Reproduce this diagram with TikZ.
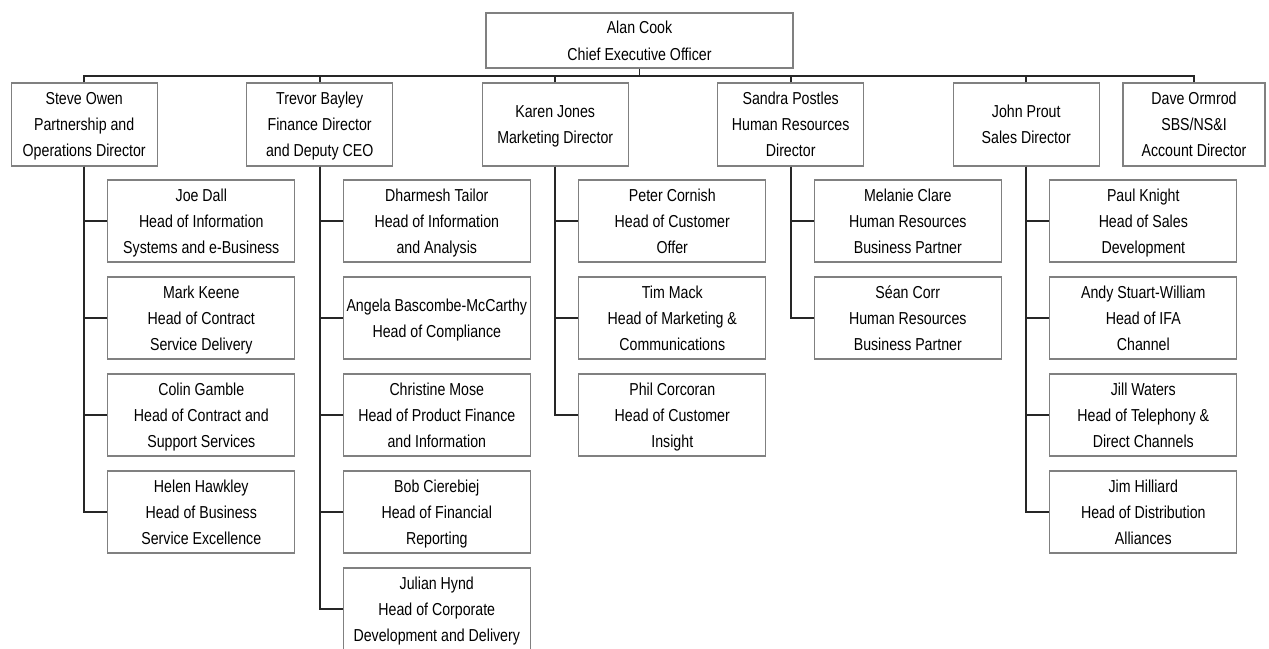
\documentclass[tikz,border=0pt]{standalone}
\usepackage{fontspec}
\setmainfont{Liberation Sans}[FakeStretch=0.82]
\definecolor{boxline}{HTML}{808080}
\definecolor{linkline}{HTML}{262626}
\definecolor{labeltext}{HTML}{000000}
\tikzset{
  orgbox/.style={draw=boxline, line width=1.2pt, rectangle, align=center,
    inner sep=0pt, text depth=-3.5pt, text=labeltext,
    font=\fontsize{17.3}{26}\selectfont},
  ceobox/.style={orgbox, minimum width=307pt, minimum height=55pt,
    text depth=-7.5pt, font=\fontsize{17.3}{27.5}\selectfont},
  dirbox/.style={orgbox, minimum width=146pt, minimum height=83pt},
  headbox/.style={orgbox, minimum width=187pt, minimum height=82pt},
  link/.style={draw=linkline, line width=1.6pt},
}
\begin{document}
\begin{tikzpicture}[x=1pt,y=-1pt]
\useasboundingbox (0,0) rectangle (1269,648);
\fill[white] (0,0) rectangle (1269,648);

% chief executive
\node[ceobox] (ceo) at (639.5,40.5) {Alan Cook\\Chief Executive Officer};

% directors
\node[dirbox] (steve)  at (84.2,124.5)  {Steve Owen\\Partnership and\\Operations Director};
\node[dirbox] (trevor) at (319.7,124.5) {Trevor Bayley\\Finance Director\\and Deputy CEO};
\node[dirbox] (karen)  at (555.2,124.5) {Karen Jones\\Marketing Director};
\node[dirbox] (sandra) at (790.7,124.5) {Sandra Postles\\Human Resources\\Director};
\node[dirbox] (john)   at (1026.2,124.5) {John Prout\\Sales Director};
\node[dirbox, minimum width=142pt] (dave) at (1194,124.5) {Dave Ormrod\\SBS/NS\&I\\Account Director};

% heads reporting to Steve Owen
\node[headbox] (joe)    at (201.3,221) {Joe Dall\\Head of Information\\Systems and e-Business};
\node[headbox] (mark)   at (201.3,318) {Mark Keene\\Head of Contract\\Service Delivery};
\node[headbox] (colin)  at (201.3,415) {Colin Gamble\\Head of Contract and\\Support Services};
\node[headbox] (helen)  at (201.3,512) {Helen Hawkley\\Head of Business\\Service Excellence};

% heads reporting to Trevor Bayley
\node[headbox] (dharmesh)  at (436.8,221) {Dharmesh Tailor\\Head of Information\\and Analysis};
\node[headbox] (angela)    at (436.8,318) {Angela Bascombe-McCarthy\\Head of Compliance};
\node[headbox] (christine) at (436.8,415) {Christine Mose\\Head of Product Finance\\and Information};
\node[headbox] (bob)       at (436.8,512) {Bob Cierebiej\\Head of Financial\\Reporting};
\node[headbox] (julian)    at (436.8,609) {Julian Hynd\\Head of Corporate\\Development and Delivery};

% heads reporting to Karen Jones
\node[headbox] (peter) at (672.3,221) {Peter Cornish\\Head of Customer\\Offer};
\node[headbox] (tim)   at (672.3,318) {Tim Mack\\Head of Marketing \&\\Communications};
\node[headbox] (phil)  at (672.3,415) {Phil Corcoran\\Head of Customer\\Insight};

% heads reporting to Sandra Postles
\node[headbox] (melanie) at (907.8,221) {Melanie Clare\\Human Resources\\Business Partner};
\node[headbox] (sean)    at (907.8,318) {Séan Corr\\Human Resources\\Business Partner};

% heads reporting to John Prout
\node[headbox] (paul) at (1143.3,221) {Paul Knight\\Head of Sales\\Development};
\node[headbox] (andy) at (1143.3,318) {Andy Stuart-William\\Head of IFA\\Channel};
\node[headbox] (jill) at (1143.3,415) {Jill Waters\\Head of Telephony \&\\Direct Channels};
\node[headbox] (jim)  at (1143.3,512) {Jim Hilliard\\Head of Distribution\\Alliances};

% top-level bus
\coordinate (bus) at (0,76);
\draw[link] (ceo.south) -- (ceo.south |- bus);
\draw[link] (steve.north) -- (steve.north |- bus) -- (dave.north |- bus) -- (dave.north);
\foreach \d in {trevor,karen,sandra,john}
  \draw[link] (\d.north) -- (\d.north |- bus);

% director-to-head connectors
\foreach \p/\c in {steve/joe,steve/mark,steve/colin,steve/helen,
                   trevor/dharmesh,trevor/angela,trevor/christine,trevor/bob,trevor/julian,
                   karen/peter,karen/tim,karen/phil,
                   sandra/melanie,sandra/sean,
                   john/paul,john/andy,john/jill,john/jim}
  \draw[link] (\p.south) |- (\c.west);
\end{tikzpicture}
\end{document}
